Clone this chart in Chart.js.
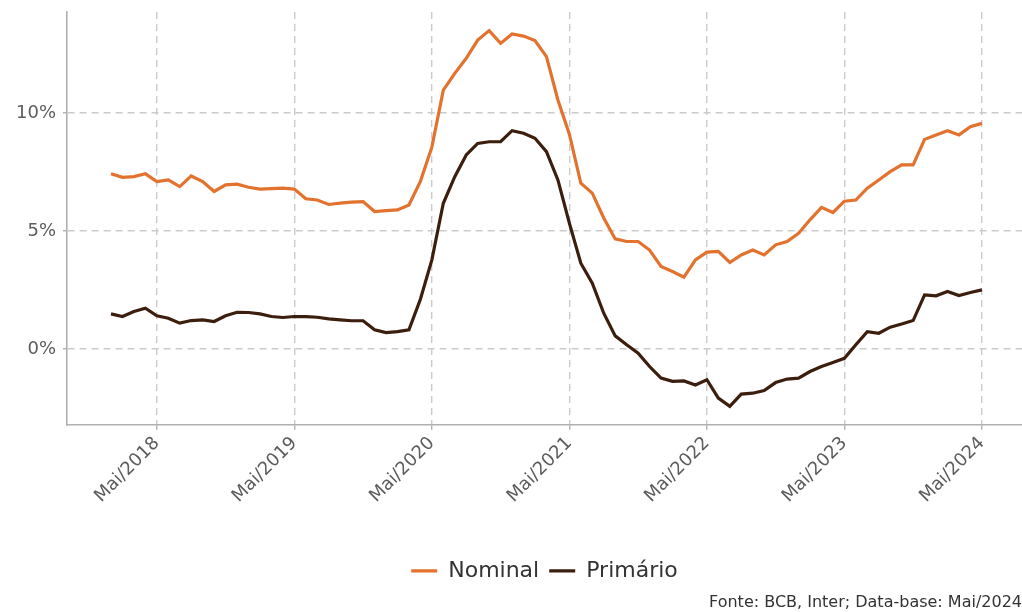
<!DOCTYPE html>
<html>
<head>
<meta charset="utf-8">
<script src="https://cdn.jsdelivr.net/npm/chart.js@4"></script>
<style>
  html, body { margin: 0; padding: 0; background: #fff; }
  #wrap { width: 1022px; height: 612px; }
</style>
</head>
<body>
<div id="wrap"><canvas id="grafico"></canvas></div>
<script>
// meses: 0 = Jan/2018 ... 76 = Mai/2024
var nomesMes = ['Jan', 'Fev', 'Mar', 'Abr', 'Mai', 'Jun', 'Jul', 'Ago', 'Set', 'Out', 'Nov', 'Dez'];
var meses = [];
for (var m = 0; m < 77; m++) {
    meses.push(nomesMes[m % 12] + '/' + (2018 + Math.floor(m / 12)));
}

var nominal = [
    7.42, 7.27, 7.30, 7.42, 7.09, 7.16, 6.88, 7.33, 7.09, 6.67, 6.95, 6.98,
    6.85, 6.77, 6.79, 6.81, 6.77, 6.36, 6.31, 6.12, 6.18, 6.22, 6.24, 5.82,
    5.86, 5.89, 6.10, 7.10, 8.55, 10.97, 11.68, 12.32, 13.09, 13.49, 12.95, 13.35,
    13.26, 13.07, 12.39, 10.55, 9.10, 7.02, 6.60, 5.55, 4.66, 4.55, 4.55, 4.19,
    3.49, 3.28, 3.04, 3.77, 4.10, 4.13, 3.66, 3.98, 4.19, 3.98, 4.41, 4.55,
    4.90, 5.47, 6.00, 5.78, 6.26, 6.31, 6.81, 7.16, 7.51, 7.80, 7.80, 8.88,
    9.07, 9.25, 9.07, 9.42, 9.56
];
var primario = [
    1.48, 1.37, 1.58, 1.72, 1.40, 1.30, 1.09, 1.20, 1.23, 1.16, 1.40, 1.55,
    1.54, 1.48, 1.37, 1.33, 1.37, 1.37, 1.34, 1.27, 1.23, 1.19, 1.19, 0.81,
    0.69, 0.73, 0.81, 2.10, 3.77, 6.17, 7.30, 8.22, 8.71, 8.78, 8.78, 9.25,
    9.14, 8.93, 8.36, 7.16, 5.33, 3.63, 2.78, 1.51, 0.55, 0.17, -0.18, -0.75,
    -1.24, -1.38, -1.36, -1.53, -1.31, -2.09, -2.44, -1.92, -1.88, -1.77, -1.43, -1.28,
    -1.24, -0.96, -0.75, -0.58, -0.40, 0.17, 0.73, 0.66, 0.92, 1.05, 1.20, 2.29,
    2.25, 2.43, 2.26, 2.39, 2.50
];

var xTickPos = [4, 16, 28, 40, 52, 64, 76];
var xTickLabels = ['Mai/2018', 'Mai/2019', 'Mai/2020', 'Mai/2021', 'Mai/2022', 'Mai/2023', 'Mai/2024'];
var yTicks = [0, 5, 10];
var yTickLabels = ['0%', '5%', '10%'];

function pontos(serie) {
    return serie.map(function (v, i) { return { x: i, y: v }; });
}

var fonte = 'DejaVu Sans';
var corGrade = '#cbcbcb';
var corEixo = '#b0b0b0';

var ctx = document.getElementById('grafico').getContext('2d');
var grafico = new Chart(ctx, {
    type: 'line',
    data: {
        labels: meses,
        datasets: [{
            label: 'Nominal',
            data: pontos(nominal),
            borderColor: '#E2722D',
            backgroundColor: '#E2722D',
            borderWidth: 3.2,
            pointRadius: 0,
            tension: 0
        }, {
            label: 'Primário',
            data: pontos(primario),
            borderColor: '#3B1E0D',
            backgroundColor: '#3B1E0D',
            borderWidth: 3.2,
            pointRadius: 0,
            tension: 0
        }]
    },
    options: {
        responsive: true,
        maintainAspectRatio: false,
        animation: false,
        layout: { padding: { top: 12, left: 0, right: 0, bottom: 0 } },
        scales: {
            x: {
                type: 'linear',
                min: -3.84,
                max: 79.5,
                afterBuildTicks: function (scale) {
                    scale.ticks = xTickPos.map(function (v) { return { value: v }; });
                },
                afterFit: function (scale) {
                    scale.height = 125;
                    scale.paddingLeft = 0;
                    scale.paddingRight = 0;
                },
                ticks: {
                    autoSkip: false,
                    maxRotation: 45,
                    minRotation: 45,
                    padding: 3,
                    color: '#5c5c5c',
                    font: { family: fonte, size: 18 },
                    callback: function (value) {
                        var k = xTickPos.indexOf(value);
                        return k >= 0 ? xTickLabels[k] : '';
                    }
                },
                grid: {
                    color: corGrade,
                    lineWidth: 1.4,
                    tickLength: 5,
                    tickColor: corEixo,
                    tickWidth: 1.4
                },
                border: { display: true, color: corEixo, width: 1.6, dash: [7, 5] }
            },
            y: {
                min: -3.22,
                max: 14.28,
                afterBuildTicks: function (scale) {
                    scale.ticks = yTicks.map(function (v) { return { value: v }; });
                },
                afterFit: function (scale) {
                    scale.width = 67;
                    scale.paddingTop = 0;
                    scale.paddingBottom = 0;
                },
                ticks: {
                    padding: 7,
                    color: '#5c5c5c',
                    font: { family: fonte, size: 18 },
                    callback: function (value) {
                        var k = yTicks.indexOf(value);
                        return k >= 0 ? yTickLabels[k] : '';
                    }
                },
                grid: {
                    color: corGrade,
                    lineWidth: 1.4,
                    tickLength: 4,
                    tickColor: corEixo,
                    tickWidth: 1.4
                },
                border: { display: true, color: corEixo, width: 1.6, dash: [7, 5] }
            }
        },
        plugins: {
            legend: {
                position: 'bottom',
                fullSize: false,
                labels: {
                    usePointStyle: true,
                    pointStyle: 'line',
                    pointStyleWidth: 26,
                    padding: 10,
                    color: '#333333',
                    font: { family: fonte, size: 22 }
                }
            },
            subtitle: {
                display: true,
                text: 'Fonte: BCB, Inter; Data-base: Mai/2024',
                position: 'bottom',
                align: 'end',
                color: '#333333',
                font: { family: fonte, size: 16, weight: 'normal' },
                padding: { top: 1, bottom: 0 }
            },
            tooltip: { enabled: false }
        }
    }
});
</script>
</body>
</html>
